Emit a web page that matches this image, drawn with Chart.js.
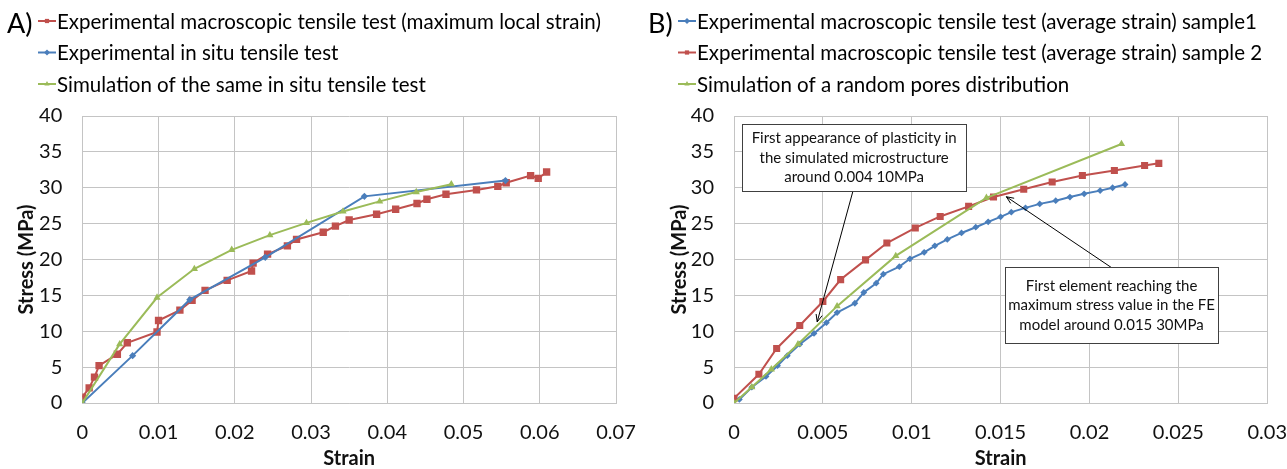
<!DOCTYPE html>
<html>
<head>
<meta charset="utf-8">
<title>Stress–strain curves</title>
<script src="https://cdn.jsdelivr.net/npm/chart.js@4.4.1/dist/chart.umd.min.js"></script>
<style>
  html, body { margin: 0; padding: 0; background: #ffffff; }
  #wrap { position: relative; width: 1287px; height: 469px; overflow: hidden; }
  #ca { position: absolute; left: 0; top: 0; }
  #cb { position: absolute; left: 640px; top: 0; }
</style>
</head>
<body>
<div id="wrap">
  <canvas id="ca" width="640" height="469"></canvas>
  <canvas id="cb" width="647" height="469"></canvas>
</div>
<script>
// ---------- Panel A: macroscopic vs in situ tensile tests ----------
const labelA_macro = 'Experimental macroscopic tensile test (maximum local strain)';
const strainA_macro = [0, 0.0009, 0.0016, 0.0022, 0.0046, 0.0059, 0.0098, 0.0100, 0.0128, 0.0144,
  0.0161, 0.0190, 0.0222, 0.0224, 0.0243, 0.0269, 0.0281, 0.0316, 0.0332, 0.0350, 0.0386, 0.0411,
  0.0439, 0.0452, 0.0477, 0.0517, 0.0545, 0.0556, 0.0588, 0.0598, 0.0609];
const stressA_macro = [0.8, 2.1, 3.6, 5.2, 6.8, 8.4, 9.9, 11.5, 12.95, 14.3,
  15.7, 17.1, 18.4, 19.5, 20.75, 21.9, 22.8, 23.8, 24.65, 25.5, 26.3, 27.0,
  27.8, 28.4, 29.1, 29.7, 30.2, 30.7, 31.7, 31.3, 32.2];

const labelA_insitu = 'Experimental in situ tensile test';
const strainA_insitu = [0, 0.0066, 0.0141, 0.0240, 0.0370, 0.0555];
const stressA_insitu = [0, 6.6, 14.4, 20.3, 28.8, 31.0];

const labelA_sim = 'Simulation of the same in situ tensile test';
const strainA_sim = [0, 0.0049, 0.0098, 0.0147, 0.0196, 0.0246, 0.0294, 0.0342, 0.0390, 0.0438, 0.0484];
const stressA_sim = [0, 8.2, 14.7, 18.7, 21.35, 23.4, 25.1, 26.7, 28.1, 29.4, 30.5];

const xTicksA = [0, 0.01, 0.02, 0.03, 0.04, 0.05, 0.06, 0.07];
const xTickLabelsA = ['0', '0.01', '0.02', '0.03', '0.04', '0.05', '0.06', '0.07'];

// ---------- Panel B: average-strain samples vs random pores simulation ----------
const labelB_s1 = 'Experimental macroscopic tensile test (average strain) sample1';
const strainB_s1 = [0.0003, 0.0010, 0.0018, 0.00245, 0.0030, 0.0037, 0.0045, 0.0052, 0.0058, 0.0068,
  0.0073, 0.0080, 0.0084, 0.0093, 0.0099, 0.0107, 0.0113, 0.0120, 0.0128, 0.0136,
  0.0143, 0.0150, 0.0156, 0.0164, 0.0172, 0.0181, 0.0189, 0.0197, 0.0206, 0.0213, 0.0220];
const stressB_s1 = [0.5, 2.2, 3.7, 5.2, 6.6, 8.2, 9.7, 11.2, 12.6, 13.9,
  15.4, 16.7, 17.95, 19.0, 20.1, 21.0, 21.9, 22.8, 23.7, 24.5,
  25.25, 25.95, 26.6, 27.2, 27.75, 28.2, 28.7, 29.15, 29.6, 30.0, 30.45];

const labelB_s2 = 'Experimental macroscopic tensile test (average strain) sample 2';
const strainB_s2 = [0, 0.0014, 0.0024, 0.0037, 0.0050, 0.0060, 0.0074, 0.0086, 0.0102, 0.0116,
  0.0132, 0.0146, 0.0163, 0.0179, 0.0196, 0.0214, 0.0231, 0.0239];
const stressB_s2 = [0.65, 4.0, 7.6, 10.8, 14.15, 17.2, 19.95, 22.3, 24.4, 26.0,
  27.4, 28.7, 29.8, 30.8, 31.7, 32.4, 33.1, 33.4];

const labelB_sim = 'Simulation of a random pores distribution';
const strainB_sim = [0, 0.0010, 0.0021, 0.0036, 0.0058, 0.0091, 0.0142, 0.0218];
const stressB_sim = [0, 2.2, 4.7, 8.2, 13.5, 20.5, 28.6, 36.1];

const xTicksB = [0, 0.005, 0.01, 0.015, 0.02, 0.025, 0.03];
const xTickLabelsB = ['0', '0.005', '0.01', '0.015', '0.02', '0.025', '0.03'];

const yTicks = [0, 5, 10, 15, 20, 25, 30, 35, 40];
const yTickLabels = ['0', '5', '10', '15', '20', '25', '30', '35', '40'];

// Callout notes on panel B (anchors in strain / stress units)
const notesB = [
  {
    lines: ['First appearance of plasticity in', 'the simulated microstructure', 'around 0.004 10MPa'],
    center: [0.00676, 34.15], from: [0.0067, 29.6], to: [0.00468, 11.3]
  },
  {
    lines: ['First element reaching the', 'maximum stress value in the FE', 'model around 0.015 30MPa'],
    center: [0.02124, 13.62], from: [0.02122, 18.9], to: [0.01532, 28.75]
  }
];
// Box sizes of the notes, in pixels
const noteBoxes = [{ w: 224, h: 67 }, { w: 213, h: 76 }];

// ---------- styling ----------
const FONT = 'Lato, "Open Sans", "Liberation Sans", sans-serif';
const RED = '#C0504D', BLUE = '#4A7EBB', GREEN = '#9BBB59';
const GRID = '#c4c4c4';

Chart.defaults.font.family = FONT;
Chart.defaults.color = '#111111';

function pairs(xs, ys) { return xs.map((v, i) => ({ x: v, y: ys[i] })); }

function series(label, xs, ys, color, style, radius, order) {
  return {
    label, data: pairs(xs, ys), showLine: true, tension: 0,
    borderColor: color, borderWidth: 2,
    pointStyle: style, pointRadius: radius, pointHoverRadius: radius,
    pointBackgroundColor: color, pointBorderColor: color, pointBorderWidth: 0,
    order
  };
}

// Stacked key drawn above the plot: line with marker, then the series name
const seriesKey = {
  id: 'seriesKey',
  afterDraw(chart, args, o) {
    const ctx = chart.ctx;
    ctx.save();
    ctx.textBaseline = 'middle';
    ctx.textAlign = 'left';
    ctx.fillStyle = '#000';
    ctx.font = o.tagSize + 'px ' + FONT;
    ctx.fillText(o.tag, o.tagX, o.tagY);
    ctx.font = o.size + 'px ' + FONT;
    chart.data.datasets.forEach((ds, i) => {
      const y = o.top + i * o.gap;
      ctx.strokeStyle = ds.borderColor;
      ctx.lineWidth = 2;
      ctx.beginPath();
      ctx.moveTo(o.x, y);
      ctx.lineTo(o.x + o.len, y);
      ctx.stroke();
      ctx.fillStyle = ds.pointBackgroundColor;
      Chart.helpers.drawPoint(ctx, { pointStyle: ds.pointStyle, radius: o.markR, rotation: 0, borderWidth: 0 },
        o.x + o.len / 2, y);
      ctx.fillStyle = '#000';
      ctx.fillText(ds.label, o.x + o.len + 1, y + 1);
    });
    ctx.restore();
  }
};

// Boxed notes with an arrow pointing at the curve
const callouts = {
  id: 'callouts',
  afterDatasetsDraw(chart, args, o) {
    if (!o.items) return;
    const { ctx } = chart;
    const sx = chart.scales.x, sy = chart.scales.y;
    ctx.save();
    o.items.forEach((n, k) => {
      const x0 = sx.getPixelForValue(n.from[0]), y0 = sy.getPixelForValue(n.from[1]);
      const x1 = sx.getPixelForValue(n.to[0]), y1 = sy.getPixelForValue(n.to[1]);
      ctx.strokeStyle = '#000';
      ctx.lineWidth = 1;
      ctx.beginPath();
      ctx.moveTo(x0, y0);
      ctx.lineTo(x1, y1);
      ctx.stroke();
      const a = Math.atan2(y1 - y0, x1 - x0), h = 8, w = 0.4;
      ctx.beginPath();
      ctx.moveTo(x1 - h * Math.cos(a - w), y1 - h * Math.sin(a - w));
      ctx.lineTo(x1, y1);
      ctx.lineTo(x1 - h * Math.cos(a + w), y1 - h * Math.sin(a + w));
      ctx.stroke();

      const cx = sx.getPixelForValue(n.center[0]), cy = sy.getPixelForValue(n.center[1]);
      const { w: bw, h: bh } = o.boxes[k];
      const bx = Math.round(cx - bw / 2) + 0.5, by = Math.round(cy - bh / 2) + 0.5;
      ctx.fillStyle = '#fff';
      ctx.fillRect(bx, by, bw, bh);
      ctx.strokeStyle = '#404040';
      ctx.strokeRect(bx, by, bw, bh);
      ctx.font = o.size + 'px ' + FONT;
      ctx.fillStyle = '#111';
      ctx.textAlign = 'center';
      ctx.textBaseline = 'middle';
      const first = cy - (n.lines.length - 1) * o.lineH / 2;
      n.lines.forEach((t, i) => {
        ctx.fillText(t, cx, first + o.lineH * i);
      });
    });
    ctx.restore();
  }
};

function axes(xMax, xTicks, xLabels, yWidth) {
  return {
    x: {
      type: 'linear', min: 0, max: xMax,
      afterBuildTicks: s => { s.ticks = xTicks.map(v => ({ value: v })); },
      afterFit: s => { s.height = 66; },
      ticks: { font: { size: 20 }, color: '#111', padding: 0, maxRotation: 0, autoSkip: false,
        callback: (v, i) => xLabels[i] },
      grid: { color: GRID, lineWidth: 1, drawTicks: true, tickLength: 18, tickColor: 'rgba(0,0,0,0)' },
      border: { color: GRID },
      title: { display: true, text: 'Strain', padding: 0,
        font: { size: 20, weight: 'bold', lineHeight: 1 }, color: '#111' }
    },
    y: {
      type: 'linear', min: 0, max: 40,
      afterBuildTicks: s => { s.ticks = yTicks.map(v => ({ value: v })); },
      afterFit: s => { s.width = yWidth; },
      ticks: { font: { size: 20 }, color: '#111', padding: 20, callback: (v, i) => yTickLabels[i] },
      grid: { color: GRID, lineWidth: 1, drawTicks: false },
      border: { color: GRID },
      title: { display: true, text: 'Stress (MPa)', padding: 0,
        font: { size: 20, weight: 'bold', lineHeight: 1.2 }, color: '#111' }
    }
  };
}

const common = {
  responsive: false,
  animation: false,
  events: [],
  plugins: { legend: { display: false }, tooltip: { enabled: false } }
};

new Chart(document.getElementById('ca'), {
  type: 'scatter',
  data: {
    datasets: [
      series(labelA_macro, strainA_macro, stressA_macro, RED, 'rect', 5.2, 3),
      series(labelA_insitu, strainA_insitu, stressA_insitu, BLUE, 'rectRot', 3.6, 2),
      series(labelA_sim, strainA_sim, stressA_sim, GREEN, 'triangle', 4.2, 1)
    ]
  },
  options: Object.assign({}, common, {
    layout: { padding: { left: 15, top: 116, right: 24, bottom: 0 } },
    scales: axes(0.07, xTicksA, xTickLabelsA, 67.3),
    plugins: Object.assign({}, common.plugins, {
      seriesKey: { tag: 'A)', tagX: 7, tagY: 24, tagSize: 27, x: 38, len: 18, top: 21, gap: 31.5, size: 20.5, markR: 3 }
    })
  }),
  plugins: [seriesKey]
});

new Chart(document.getElementById('cb'), {
  type: 'scatter',
  data: {
    datasets: [
      series(labelB_s1, strainB_s1, stressB_s1, BLUE, 'rectRot', 3.4, 3),
      series(labelB_s2, strainB_s2, stressB_s2, RED, 'rect', 5, 2),
      series(labelB_sim, strainB_sim, stressB_sim, GREEN, 'triangle', 4.2, 1)
    ]
  },
  options: Object.assign({}, common, {
    layout: { padding: { left: 28, top: 116, right: 19, bottom: 0 } },
    scales: axes(0.03, xTicksB, xTickLabelsB, 66),
    plugins: Object.assign({}, common.plugins, {
      seriesKey: { tag: 'B)', tagX: 8, tagY: 24, tagSize: 27, x: 38, len: 18, top: 21, gap: 31.5, size: 20.5, markR: 3 },
      callouts: { items: notesB, boxes: noteBoxes, size: 15, lineH: 19.5 }
    })
  }),
  plugins: [seriesKey, callouts]
});
</script>
</body>
</html>
